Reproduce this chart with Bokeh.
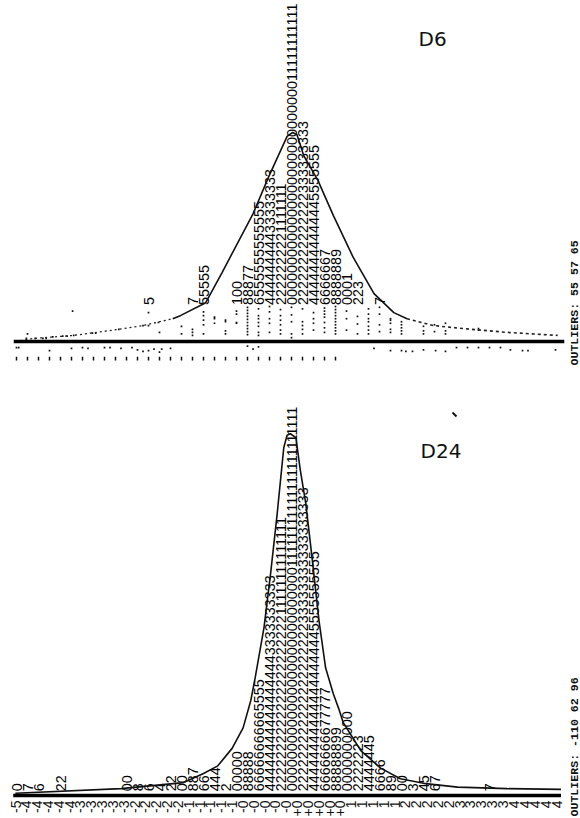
from bokeh.plotting import figure
from bokeh.layouts import column
from bokeh.models import Range1d, ColumnDataSource
from bokeh.core.properties import value
from bokeh.embed import file_html
from bokeh.resources import INLINE
import math

# ---- data: stem-and-leaf rows (stem position, leaves), normal curves ----
stem_labels = ["-5", "-4", "-4", "-4", "-4", "-4", "-3", "-3", "-3", "-3", "-3",
               "-2", "-2", "-2", "-2", "-2", "-1", "-1", "-1", "-1", "-1",
               "-0", "-0", "-0", "-0", "-0", "+0", "+0", "+0", "+0", "+0",
               "1", "1", "1", "1", "1", "2", "2", "2", "2", "2",
               "3", "3", "3", "3", "3", "4", "4", "4", "4", "4"]

d24_rows = [0, 1, 2, 4, 10, 11, 12, 13, 14, 15, 16, 17, 18, 19, 20, 21, 22, 23, 24, 25,
            26, 27, 28, 29, 30, 31, 32, 33, 34, 35, 36, 37, 38, 43]
d24_leaves = ["0", "7", "6", "22", "00", "8", "6", "4", "22", "00", "887", "66", "444", "2",
              "00000", "88888", "66666666665555",
              "44444444444444444" + "3333333333",
              "2222222222222222222222" + "11111111111111",
              "0000000000000000000000000000" + "11111111111111111111111",
              "222222222222222222222" + "33333333333333333",
              "44444444444444444444" + "5555555555",
              "6666666677777", "88888899", "0000000000", "2222223", "4444445", "6666",
              "89", "00", "3", "45", "67", "7"]
d24_curve_x = [-0.1, 9.5, 15.2, 17.0, 18.3, 19.6, 20.6, 21.3, 21.7, 22.5, 23.1, 23.7, 24.3, 24.6, 24.9,
               25.4, 25.8, 26.3, 26.9, 27.5, 28.1, 28.8, 29.3, 29.7, 31.3, 33.1, 34.9, 37.0, 40.1, 44.6, 49.5]
d24_curve_y = [0.3, 0.9, 1.7, 2.9, 3.9, 6.2, 8.9, 12.5, 15.5, 22.1, 29.2, 37.1, 45.8, 47.4, 47.6,
               47.1, 42.8, 38.4, 30.9, 23.0, 16.8, 13.4, 11.4, 9.6, 5.9, 3.6, 2.2, 1.6, 1.1, 0.9, 0.8]

d6_rows = [12, 16, 17, 20, 21, 22, 23, 24, 25, 26, 27, 28, 29, 30, 31, 33]
d6_leaves = ["5", "7", "55555", "100", "88877", "6555555555555",
             "444444444" + "33333333",
             "222222222" + "1111111",
             "0000000000000000000000000000" + "11111111111",
             "22222222222222" + "333333333",
             "4444444444444" + "5555555",
             "6666667", "8888889", "0001", "223", "7"]
d6_curve_x = [-0.1, 1.5, 5.2, 9.3, 11.5, 14.2, 14.9, 17.2, 18.7, 21.5, 22.9, 24.6, 25.1, 25.5,
              26.1, 27.4, 28.8, 30.6, 32.5, 34.3, 35.5, 37.9, 40.6, 44.6, 49.2]
d6_curve_y = [0.0, 0.4, 0.8, 1.6, 2.1, 3.0, 3.4, 5.1, 9.1, 16.8, 21.6, 27.0, 27.5, 27.2,
              24.5, 21.2, 16.6, 11.1, 6.3, 3.8, 3.0, 2.1, 1.7, 1.2, 0.8]

# faded remains of the D6 leaves, close to the base line
speck_columns = [15, 16, 17, 18, 19, 20, 21, 22, 23, 24, 25, 26, 27, 28, 29, 30, 31, 32, 33, 34, 35, 37, 38, 39, 42]
speck_levels = [[1.0, 2.0], [1.2, 0.8, 1.6], [1.0, 2.2, 2.8, 3.4, 3.9], [2.4, 3.0, 3.2], [1.0, 1.4, 2.6, 2.8],
                [2.4, 2.5, 3.6, 4.0], [0.9, 1.3, 1.7, 2.1, 2.5, 2.9, 3.3, 3.7, 4.1, 4.5],
                [0.8, 1.2, 2.0, 2.5, 3.0, 3.4, 4.3], [1.2, 2.4, 3.0, 3.9, 4.6], [1.0, 1.5, 2.2, 2.8, 3.4, 4.2],
                [0.5, 1.0, 2.6, 3.5, 4.5], [1.0, 1.6, 2.1, 2.6, 4.3], [1.5, 2.4, 3.0, 3.8],
                [1.2, 1.8, 2.5, 3.2, 3.6, 4.0, 4.4], [1.0, 1.4, 1.8, 2.2, 2.6, 3.0, 3.4, 3.8, 4.2, 4.6],
                [1.5, 3.0, 4.0], [1.0, 2.3, 3.3], [1.0, 1.5, 2.0, 2.6, 3.0, 3.6, 4.3], [1.3, 2.2, 3.6, 4.5],
                [1.2, 1.6, 2.4, 2.8, 3.0], [1.0, 1.4, 1.8, 2.2, 2.6], [1.0, 1.4, 2.0], [1.3, 2.2], [1.0, 1.4, 2.4],
                [1.5, 1.7]]
tail_specks_x = [1.0, 0.9, 1.7, 2.4, 2.7, 3.3, 4.2, 4.6, 5.2, 5.1, 6.9, 7.2, 9.3, 12.0, 11.5, 12.0, 12.9, 13.0,
                 0.0, 0.2, 3.0, 5.0, 6.0, 6.5, 8.0, 8.5, 9.5, 10.5, 11.0, 11.5, 12.0, 12.5, 13.0, 13.2, 14.0, 21.0, 21.5, 22.0,
                 32.5, 34.0, 35.0, 35.4, 36.0, 37.0, 38.1, 39.0, 40.0, 41.0, 42.0, 43.0, 44.0, 44.9, 46.0, 46.5, 49.0]
tail_specks_y = [1.0, 0.4, 0.4, 0.4, 0.4, 0.6, 0.7, 0.7, 0.8, 4.0, 1.1, 1.1, 1.6, 3.8, 2.1, 2.1, 2.5, 1.2,
                 -0.8, -0.8, -1.2, -0.9, -0.8, -0.9, -0.8, -0.8, -0.9, -0.8, -1.1, -1.3, -1.2, -1.0, -1.4, -1.0, -0.9, -0.6, -1.0, -0.7,
                 -0.9, -1.2, -1.2, -1.3, -1.3, -1.1, -1.2, -1.3, -0.8, -0.8, -0.8, -0.8, -0.8, -1.1, -1.2, -1.2, -1.1]
d6_tick_stems = list(range(0, 30))

d6_outliers = "OUTLIERS: 55 57 65"
d24_outliers = "OUTLIERS: -110 62 96"

# ---- layout scale: one stem column and one leaf character in pixels ----
COL = 11.0
CHAR = 7.6
X0 = 16.0
W = 580
H = 818
SPLIT = 400
D6_BASE = 341.0
D24_BASE = 795.0

def new_panel(top, bottom, base):
    p = figure(width=W, height=bottom - top, toolbar_location=None, output_backend="svg",
               x_range=Range1d(-X0 / COL, (W - X0) / COL),
               y_range=Range1d((base - bottom) / CHAR, (base - top) / CHAR),
               min_border=0, x_axis_location=None, y_axis_location=None,
               outline_line_color=None, background_fill_color="white", border_fill_color="white")
    p.grid.visible = False
    return p

def leaves(p, rows, strings, base_level):
    src = ColumnDataSource(dict(x=rows, y=[base_level] * len(rows), t=strings))
    p.text("x", "y", text="t", source=src, angle=math.pi / 2, text_align="left", text_baseline="middle",
           text_font=value("Liberation Sans"), text_font_size="14.4px", text_color="black")

def outliers(p, s, px_bottom, base):
    p.text([(573.5 - X0) / COL], [(base - px_bottom) / CHAR], text=[s], angle=math.pi / 2, text_align="left",
           text_baseline="middle", text_font=value("Liberation Mono"), text_font_size="11.6px",
           text_font_style="bold", text_color="#111111")

def heading(p, s, px_x, px_y, base):
    p.text([(px_x - X0) / COL], [(base - px_y) / CHAR], text=[s], text_align="left", text_baseline="middle",
           text_font=value("DejaVu Sans"), text_font_size="20px", text_color="#111111")

# ---- D6 ----
p1 = new_panel(0, SPLIT, D6_BASE)
sx, sy = [], []
for c, lv in zip(speck_columns, speck_levels):
    sx += [c] * len(lv)
    sy += lv
p1.scatter(sx + tail_specks_x, sy + tail_specks_y, marker="square", size=1.7, color="#111111", line_width=0)
leaves(p1, d6_rows, d6_leaves, 4.8)
p1.line(d6_curve_x[5:21], d6_curve_y[5:21], line_color="#111111", line_width=1.6)
p1.line(d6_curve_x[:6], d6_curve_y[:6], line_color="#222222", line_width=1.3, line_dash="2 3")
p1.line(d6_curve_x[20:], d6_curve_y[20:], line_color="#222222", line_width=1.6, line_dash="3 3")
p1.line([-0.25, 49.8], [0, 0], line_color="black", line_width=3.5)
p1.segment(d6_tick_stems, [-2.0] * 30, d6_tick_stems, [-2.5] * 30, line_color="#111111", line_width=1.5)
outliers(p1, d6_outliers, 365, D6_BASE)
heading(p1, "D6", 418, 38, D6_BASE)

# ---- D24 ----
p2 = new_panel(SPLIT, H, D24_BASE)
leaves(p2, d24_rows, d24_leaves, 0.55)
p2.line(d24_curve_x, d24_curve_y, line_color="#111111", line_width=1.6)
p2.line([-0.3, 49.5], [0, 0], line_color="black", line_width=3.5)
stem_x = [(15 + 10.83 * k - X0) / COL for k in range(len(stem_labels))]
p2.text(stem_x, [-0.65] * len(stem_labels), text=stem_labels, angle=math.pi / 2, text_align="right",
        text_baseline="middle", text_font=value("Liberation Sans"), text_font_size="14px", text_color="#111111")
outliers(p2, d24_outliers, 816, D24_BASE)
heading(p2, "D24", 420, 450, D24_BASE)
p2.line([(452 - X0) / COL, (456 - X0) / COL], [(D24_BASE - 412) / CHAR, (D24_BASE - 416) / CHAR],
        line_color="#111111", line_width=2)

page = column(p1, p2, spacing=0, margin=(0, 0, 0, 0))
open("out.html", "w").write(file_html(page, INLINE))
